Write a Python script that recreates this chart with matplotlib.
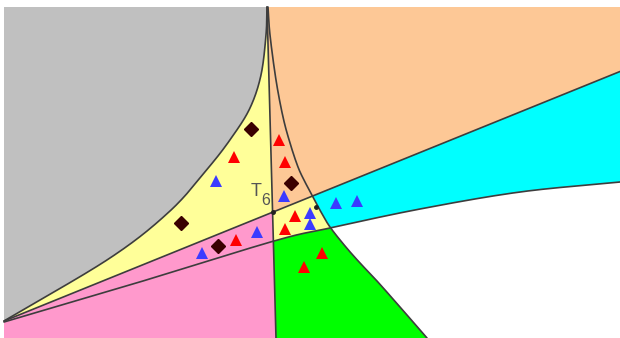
import numpy as np
import matplotlib
matplotlib.use("Agg")
import matplotlib.pyplot as plt

# diagram frame in pixel units (y grows downward)
X0, X1 = 4, 620
Y0, Y1 = 7, 338

# boundary curves (control points)
axis_pts = [(267, 7), (276, 338)]
upper_pts = [(4, 321), (620, 71.5)]
gray_pts = [(267, 7), (266, 35), (261, 75), (250, 108), (232, 137), (209, 167),
            (170, 211), (110, 258), (4, 321)]
right_pts = [(268, 7), (270, 35), (276, 80), (283, 117), (290, 143), (298, 167),
             (305, 182), (313, 197), (321, 212), (330, 227), (345, 246),
             (360, 263), (377, 281), (400, 307), (427, 338)]
lower_pts = [(4, 322), (133, 284), (274, 241), (330, 228), (420, 209),
             (520, 192), (620, 182)]

# markers
diamond_x = [251, 291, 181, 218]
diamond_y = [129, 183, 223, 246]
red_x = [234, 279, 285, 236, 295, 285, 322, 304]
red_y = [157, 140, 162, 240, 216, 229, 253, 267]
blue_x = [216, 284, 257, 202, 310, 310, 336, 357]
blue_y = [181, 196, 232, 253, 213, 224, 203, 201]

EDGE = "#3d3d3d"


def smooth(pts, n=40):
    p = np.array(pts, float)
    p = np.vstack([2 * p[0] - p[1], p, 2 * p[-1] - p[-2]])
    t = np.linspace(0, 1, n, endpoint=False)[:, None]
    out = []
    for i in range(1, len(p) - 2):
        p0, p1, p2, p3 = p[i - 1], p[i], p[i + 1], p[i + 2]
        seg = 0.5 * (2 * p1 + (-p0 + p2) * t + (2 * p0 - 5 * p1 + 4 * p2 - p3) * t ** 2
                     + (-p0 + 3 * p1 - 3 * p2 + p3) * t ** 3)
        out.append(seg)
    out.append(p[-2][None])
    return np.vstack(out)


def cross(curve, f):
    # first point where f changes sign along the curve, plus its index
    v = f(curve[:, 0], curve[:, 1])
    i = np.where(np.sign(v[:-1]) != np.sign(v[1:]))[0][0]
    a = v[i] / (v[i] - v[i + 1])
    return curve[i] + a * (curve[i + 1] - curve[i]), i


V = np.column_stack([np.linspace(axis_pts[0][0], axis_pts[1][0], 400),
                     np.linspace(axis_pts[0][1], axis_pts[1][1], 400)])
U = np.column_stack([np.linspace(upper_pts[0][0], upper_pts[1][0], 600),
                     np.linspace(upper_pts[0][1], upper_pts[1][1], 600)])
G = smooth(gray_pts)
R = smooth(right_pts)
L = smooth(lower_pts)

slope_u = (upper_pts[1][1] - upper_pts[0][1]) / (upper_pts[1][0] - upper_pts[0][0])
f_u = lambda x, y: y - (upper_pts[0][1] + slope_u * (x - upper_pts[0][0]))
f_l = lambda x, y: y - np.interp(x, L[:, 0], L[:, 1])

T, iT = cross(V, f_u)
Vl, iVl = cross(V, f_l)
P, iP = cross(R, f_u)
Q, iQ = cross(R, f_l)
iU_T = np.searchsorted(U[:, 0], T[0])
iU_P = np.searchsorted(U[:, 0], P[0])
iL_V = np.searchsorted(L[:, 0], Vl[0])
iL_Q = np.searchsorted(L[:, 0], Q[0])

fig = plt.figure(figsize=(6.2, 3.38), dpi=100)
ax = fig.add_axes([0, 0, 1, 1])
ax.set_xlim(0, 620)
ax.set_ylim(338, 0)
ax.axis("off")


def fill(pts, color):
    pts = np.vstack([np.atleast_2d(p) for p in pts])
    ax.fill(pts[:, 0], pts[:, 1], color=color, lw=0)


# left half
fill([(X0, Y0), V, (X0, Y1)], "#ff99cc")
fill([(X0, Y0), V[:iT + 1], T, U[:iU_T][::-1]], "#ffff99")
fill([(X0, Y0), G], "#c0c0c0")
# right half
fill([V, (X1, Y1), (X1, Y0)], "#fdc896")
fill([T, U[iU_T:], (X1, Y1), V[iT + 1:][::-1]], "#ffff99")
fill([Vl, L[iL_V:], (X1, Y1), V[iVl + 1:][::-1]], "#00ff00")
fill([P, U[iU_P:], (X1, Y1), R[iP + 1:][::-1]], "#00ffff")
fill([Q, L[iL_Q:], (X1, Y1), R[iQ + 1:][::-1]], "white")

for c in (V, U, G, R, L):
    ax.plot(c[:, 0], c[:, 1], color=EDGE, lw=1.2, solid_capstyle="round")
ax.plot([T[0], 316], [T[1], 207], "o", color="#222222", ms=2.5)

ax.plot(diamond_x, diamond_y, "D", color="#3a0000", ms=7.5, mec="#3a0000")
ax.plot(red_x, red_y, "^", color="#ff0000", ms=9, mew=0)
ax.plot(blue_x, blue_y, "^", color="#3b3bff", ms=9, mew=0)

ax.text(256.5, 191, "T", fontsize=13, color="#555555", family="Liberation Sans",
        ha="center", va="center")
ax.text(266, 200.5, "6", fontsize=11.5, color="#555555", family="Liberation Sans",
        ha="center", va="center")

fig.savefig("out.png", dpi=100)
